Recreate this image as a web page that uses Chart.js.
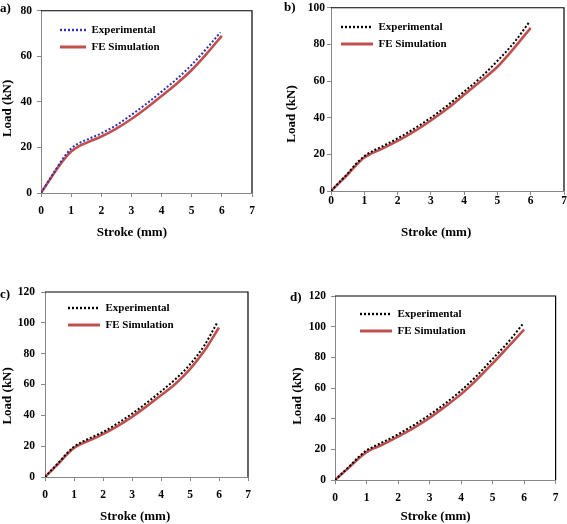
<!DOCTYPE html>
<html>
<head>
<meta charset="utf-8">
<script src="https://cdn.jsdelivr.net/npm/chart.js@4.4.0/dist/chart.umd.min.js"></script>
<style>
html, body { margin: 0; padding: 0; background: #fff; overflow: hidden; }
#wrap { position: relative; width: 567px; height: 524px; }
canvas { position: absolute; }
.tag { position: absolute; font: bold 13px "Liberation Serif", serif; line-height: 13px; color: #000; }
</style>
</head>
<body>
<div id="wrap">
  <canvas id="ca" width="283" height="262" style="left:0;top:0"></canvas>
  <canvas id="cb" width="284" height="262" style="left:283px;top:0"></canvas>
  <canvas id="cc" width="283" height="262" style="left:0;top:262px"></canvas>
  <canvas id="cd" width="284" height="262" style="left:283px;top:262px"></canvas>
  <div class="tag" style="left:0;top:1px">a)</div>
  <div class="tag" style="left:284px;top:0">b)</div>
  <div class="tag" style="left:0;top:287px">c)</div>
  <div class="tag" style="left:290px;top:290px">d)</div>
</div>
<script>
// stroke positions (mm)
const strokeSim = [0, 0.25, 0.5, 0.75, 1, 1.25, 1.5, 2, 2.5, 3, 3.5, 4, 4.5, 5, 5.5, 6];
const strokeExp = [0, 0.25, 0.5, 0.75, 1, 1.25, 1.5, 2, 2.5, 3, 3.5, 4, 4.5, 5, 5.5, 5.95];

// load (kN), panel a
const loadExpA = [0, 5.3, 10.5, 15.5, 19.5, 21.8, 23.3, 26.2, 29.8, 34.3, 39.2, 44.5, 50, 56.3, 63.5, 70.5];
const loadSimA = [0, 5, 10, 14.5, 18.2, 20.5, 22, 24.8, 28.3, 32.5, 37.3, 42.6, 48, 54, 61.2, 69];
// panel b
const loadExpB = [0, 4.8, 9.5, 14.8, 19, 21.8, 24, 28.7, 34, 40, 46.7, 54.2, 62, 71, 81, 92];
const loadSimB = [0, 4.5, 9, 14, 18.3, 20.8, 22.8, 27.3, 32.5, 38.5, 45, 52.5, 60, 67.8, 78, 89];
// panel c
const loadExpC = [0, 5, 9.9, 15.3, 19.6, 22.5, 24.8, 29.2, 34.8, 41, 48, 55.5, 63.5, 73, 85.5, 100.5];
const loadSimC = [0, 4.7, 9.4, 14.5, 18.8, 21.5, 23.5, 27.8, 33, 39, 45.8, 53, 60.5, 70, 82, 97];
// panel d
const loadExpD = [0, 4.9, 9.8, 15, 19.3, 22, 24.5, 29.8, 35.8, 42.5, 50, 58.3, 68, 79, 90, 101.5];
const loadSimD = [0, 4.6, 9.2, 14, 18.2, 20.8, 23, 28.3, 34, 40.5, 48, 56, 65.5, 76, 87, 98];

const loadMax = [80, 100, 120, 120];
const seriesNames = ['Experimental', 'FE Simulation'];
const xTitle = 'Stroke (mm)';
const yTitle = 'Load (kN)';

const serif = '"Liberation Serif", "Times New Roman", serif';

// layout per panel; xs / ys = trailing spaces that push the centred axis title off the plot centre
const panels = [
  { id: 'ca', exp: loadExpA, sim: loadSimA, yMax: loadMax[0], expColor: '#2f2fb4',
    pad: { left: 0, top: 6, right: 31, bottom: 22.5 }, yW: 41, xH: 46.5, yPad: 5, xPad: 8.5, yt: 1.5,
    legW: 26, legX: 54, legY: 18.5, xs: 9, ys: 4 },
  { id: 'cb', exp: loadExpB, sim: loadSimB, yMax: loadMax[1], expColor: '#000',
    pad: { left: 0, top: 5, right: 3, bottom: 22.5 }, yW: 48, xH: 48.5, yPad: 2, xPad: 0, yt: 2.5,
    legW: 32, legX: 52, legY: 15.5, xs: 7, ys: 9 },
  { id: 'cc', exp: loadExpC, sim: loadSimC, yMax: loadMax[2], expColor: '#000',
    pad: { left: 0, top: 30, right: 35, bottom: 0.5 }, yW: 45, xH: 46.5, yPad: 6, xPad: 8.5, yt: 1.5,
    legW: 32, legX: 62, legY: 34.5, xs: 7, ys: 7 },
  { id: 'cd', exp: loadExpD, sim: loadSimD, yMax: loadMax[3], expColor: '#000',
    pad: { left: 0, top: 34, right: 3, bottom: 0.5 }, yW: 52, xH: 43.5, yPad: 5, xPad: 8.5, yt: 8.5,
    legW: 32, legX: 71, legY: 40.5, xs: 6, ys: 5 }
];

// top and right edges of the plot frame
const plotFrame = {
  id: 'plotFrame',
  beforeDatasetsDraw(chart) {
    const { ctx, chartArea: a } = chart;
    ctx.save();
    ctx.strokeStyle = '#000';
    ctx.lineWidth = 1.2;
    ctx.beginPath();
    ctx.moveTo(a.left, a.top);
    ctx.lineTo(a.right, a.top);
    ctx.lineTo(a.right, a.bottom);
    ctx.stroke();
    ctx.restore();
  }
};

// put the in-plot legend where it sits in the figure
const placeLegend = {
  id: 'placeLegend',
  afterLayout(chart, args, opts) {
    chart.legend.left = opts.x;
    chart.legend.top = opts.y;
  }
};

function pts(xs, ys) {
  return xs.map((x, i) => ({ x: x, y: ys[i] }));
}

// keep dashes and widths of the lines in the legend samples
function legendItems(chart) {
  const items = Chart.defaults.plugins.legend.labels.generateLabels(chart);
  items.forEach(it => {
    const ds = chart.data.datasets[it.datasetIndex];
    it.lineDash = ds.borderDash || [];
    it.lineWidth = ds.borderWidth + 0.4;
    it.strokeStyle = ds.borderColor;
  });
  return items;
}

panels.forEach(p => {
  new Chart(document.getElementById(p.id), {
    type: 'line',
    data: {
      datasets: [{
        label: seriesNames[0],
        data: pts(strokeExp, p.exp),
        borderColor: p.expColor,
        borderWidth: 2,
        borderDash: [2, 2],
        pointRadius: 0,
        pointStyle: 'line',
        cubicInterpolationMode: 'monotone',
        fill: false
      }, {
        label: seriesNames[1],
        data: pts(strokeSim, p.sim),
        borderColor: '#c0504d',
        borderWidth: 2.6,
        pointRadius: 0,
        pointStyle: 'line',
        cubicInterpolationMode: 'monotone',
        fill: false
      }]
    },
    options: {
      responsive: false,
      animation: false,
      layout: { padding: p.pad },
      plugins: {
        legend: {
          position: 'chartArea',
          align: 'start',
          labels: {
            usePointStyle: true,
            pointStyleWidth: p.legW,
            boxHeight: 11,
            padding: 6,
            color: '#000',
            font: { family: serif, weight: 'bold', size: 11 },
            generateLabels: legendItems
          }
        },
        tooltip: { enabled: false },
        placeLegend: { x: p.legX, y: p.legY }
      },
      scales: {
        x: {
          type: 'linear',
          min: 0,
          max: 7,
          ticks: { stepSize: 1, color: '#000', padding: p.xPad, maxRotation: 0,
                   font: { family: serif, weight: 'bold', size: 11.5, lineHeight: 1 } },
          grid: { drawOnChartArea: false, color: '#888', tickLength: 4 },
          border: { color: '#888', width: 1 },
          title: { display: true, text: xTitle + ' '.repeat(p.xs), color: '#000', padding: { top: 0, bottom: 0 },
                   font: { family: serif, weight: 'bold', size: 13, lineHeight: 1 } },
          afterFit(s) { s.height = p.xH; }
        },
        y: {
          min: 0,
          max: p.yMax,
          ticks: { stepSize: 20, color: '#000', padding: p.yPad,
                   font: { family: serif, weight: 'bold', size: 11.5, lineHeight: 1 } },
          grid: { drawOnChartArea: false, color: '#888', tickLength: 4 },
          border: { color: '#888', width: 1 },
          title: { display: true, text: yTitle + ' '.repeat(p.ys), color: '#000', padding: { top: p.yt, bottom: 0 },
                   font: { family: serif, weight: 'bold', size: 13, lineHeight: 1 } },
          afterFit(s) { s.width = p.yW; }
        }
      }
    },
    plugins: [plotFrame, placeLegend]
  });
});
</script>
</body>
</html>
